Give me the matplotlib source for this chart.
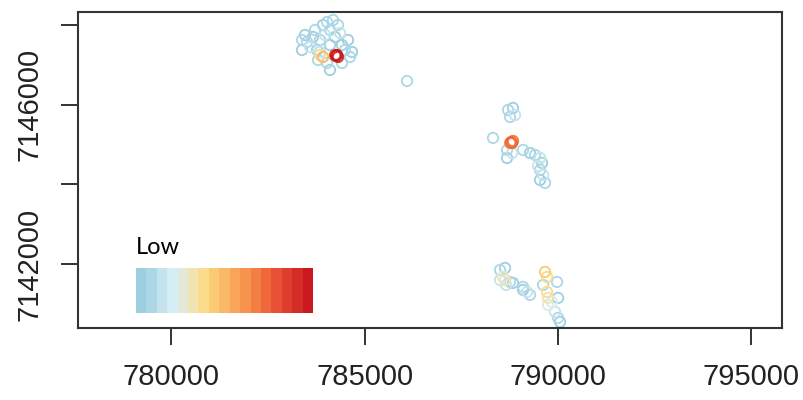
import matplotlib

matplotlib.use("Agg")
import matplotlib.pyplot as plt
import numpy as np

# palette (low -> high)
PALETTE = ["#9ecfe0", "#acd7e6", "#c4e3ec", "#d5eef5", "#e4e8d8", "#f2e4b0",
           "#fbdc8c", "#fbcb74", "#f9b866", "#f8a55a", "#f6944f", "#f47f44",
           "#f0673c", "#e95136", "#df3e2f", "#d42d27", "#c9191e"]

# easting / northing / value class (0..16)
easting = [
    # north-west cluster
    783376, 783454, 783505, 783583, 783661, 783712, 783764, 783842, 783919,
    783971, 784023, 784100, 784100, 784178, 784230, 784307, 784359, 784411,
    784488, 784566, 784618, 784670, 784023, 784100, 784411, 783842, 783376,
    783790, 783919, 783842, 784281, 784307, 784230, 784256,
    # lone point
    786092,
    # middle cluster
    788705, 788834, 788757, 788886, 788317, 788809, 788834, 788757, 788783,
    788679, 788809, 788679, 789093, 789274, 789404, 789533, 789585, 789533,
    789611, 789533, 789662, 789481,
    # south-west cluster
    788498, 788628, 788498, 788628, 788757, 788654, 788834, 789093, 789197,
    789274, 789093, 788576,
    # south-east cluster
    789662, 789714, 789611, 789714, 789740, 789973, 789999, 789921, 789999,
    790050, 789843, 789740,
]
northing = [
    7147624, 7147749, 7147573, 7147448, 7147699, 7147875, 7147373, 7147624,
    7148000, 7147749, 7148075, 7147498, 7147875, 7148125, 7147699, 7148000,
    7147799, 7147498, 7147373, 7147624, 7147197, 7147323, 7147047, 7146871,
    7147047, 7147323, 7147373, 7147122, 7147197, 7147247, 7147247, 7147197,
    7147247, 7147222,
    7146595,
    7145867, 7145918, 7145692, 7145742, 7145165, 7145039, 7145089, 7145039,
    7145064,
    7144864, 7144788, 7144663, 7144864, 7144788, 7144738, 7144663, 7144538,
    7144362, 7144236, 7144111, 7144036, 7144462,
    7141853, 7141903, 7141602, 7141602, 7141552, 7141477, 7141527, 7141427,
    7141301, 7141226, 7141351, 7141677,
    7141803, 7141677, 7141477, 7141301, 7140975, 7141552, 7141151, 7140799,
    7140649, 7140548, 7141050, 7141151,
]
value = [
    1, 0, 1, 2, 0, 1, 0, 1, 0, 2, 1, 0, 1, 1, 0, 1, 2, 0, 1, 0, 1, 0, 1, 0,
    1, 2, 0, 1, 8, 6, 16, 15, 13, 16,
    1,
    1, 0, 1, 2, 1, 12, 11, 10, 12,
    1, 2, 0, 1, 0, 1, 2, 0, 1, 2, 0, 1, 2,
    1, 0, 2, 5, 1, 2, 0, 1, 2, 1, 0, 4,
    7, 6, 1, 6, 4, 1, 0, 2, 1, 0, 3, 5,
]

x_ticks = [780000, 785000, 790000, 795000]
y_ticks = [7142000, 7144000, 7146000, 7148000]
y_labels = ["7142000", "", "7146000", ""]

fig = plt.figure(figsize=(8.04, 4.0), dpi=100)
ax = fig.add_axes([78 / 804, 72 / 400, 704 / 804, 316 / 400])

x = np.array(easting)
y = np.array(northing)
v = np.array(value)
order = np.argsort(v, kind="stable")
ax.scatter(x[order], y[order], s=56, facecolors="none",
           edgecolors=[PALETTE[i] for i in v[order]], linewidths=1.3)

ax.set_xlim(777582, 795791)
ax.set_ylim(7140396, 7148326)
ax.set_xticks(x_ticks)
ax.set_xticklabels([str(t) for t in x_ticks])
ax.set_yticks(y_ticks)
ax.set_yticklabels(y_labels, rotation=90, va="center")
ax.tick_params(length=12, width=1.4, color="#333333", labelsize=21,
               labelcolor="#222222", pad=13)
for lab in ax.get_xticklabels() + ax.get_yticklabels():
    lab.set_fontfamily("Liberation Sans")
for sp in ax.spines.values():
    sp.set_linewidth(1.5)
    sp.set_color("#333333")

# legend colour bar
cax = fig.add_axes([136 / 804, 87 / 400, 177 / 804, 45 / 400])
cax.imshow(np.arange(len(PALETTE))[None, :],
           cmap=matplotlib.colors.ListedColormap(PALETTE), aspect="auto")
cax.set_axis_off()
fig.text(136 / 804, 153 / 400, "Low", fontsize=17, family="Lato",
         ha="left", va="center", color="black")

fig.savefig("out.png", dpi=100)
